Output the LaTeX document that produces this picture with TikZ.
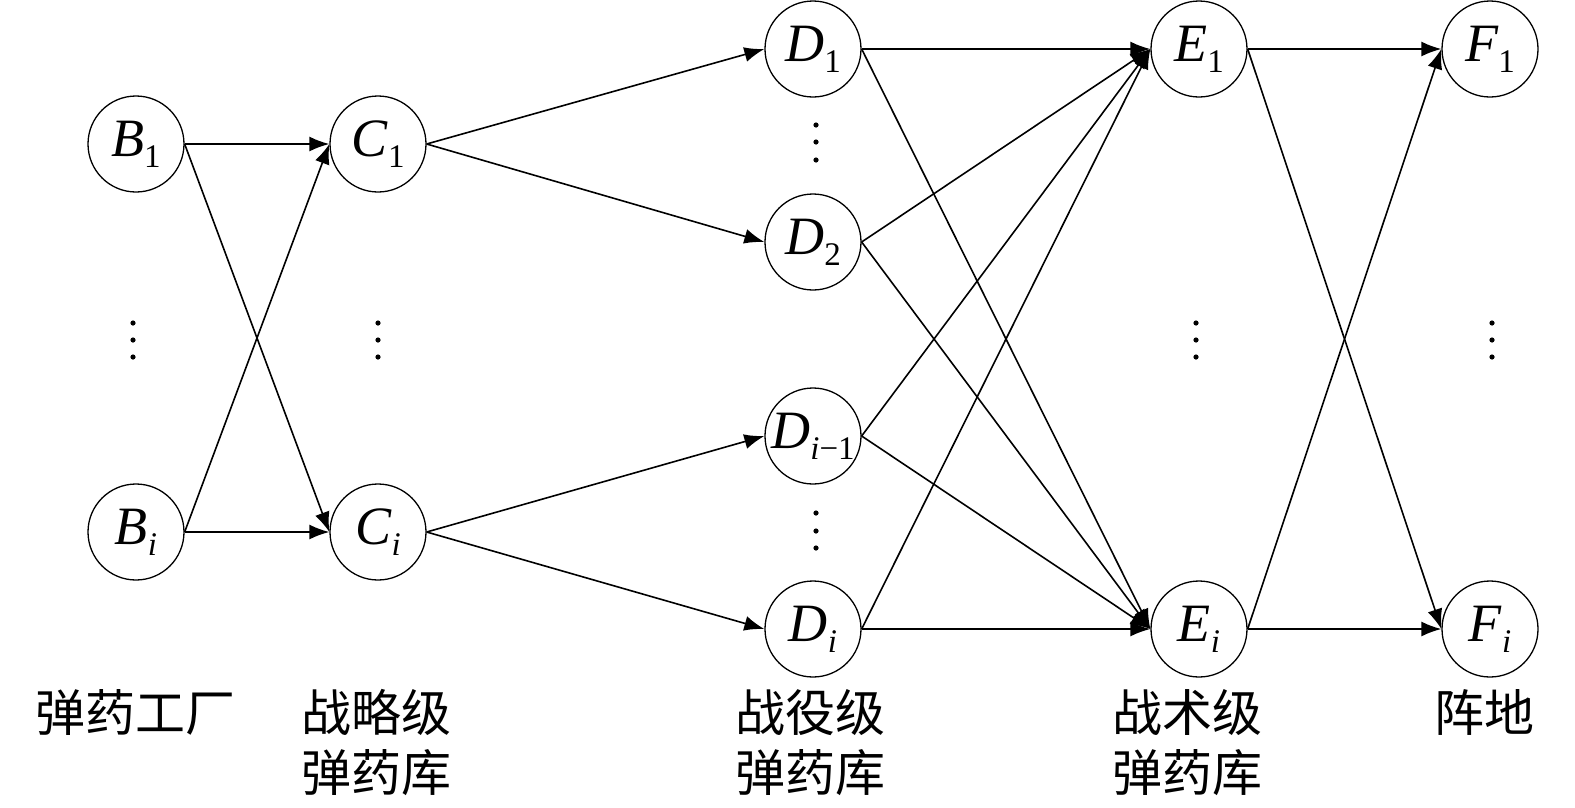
\documentclass[tikz,border=0pt]{standalone}
\usepackage{fontspec}
\setmainfont{Liberation Serif}
\newfontfamily\cjk{Noto Sans CJK SC}
\usetikzlibrary{arrows.meta}
\newcommand{\nlab}[2]{\fontsize{54}{54}\selectfont\textit{#1}\raisebox{-11pt}{\fontsize{33}{33}\selectfont #2}}
\begin{document}
\begin{tikzpicture}[x=1pt,y=-1pt,
  nd/.style={circle,draw,line width=1.3pt,minimum size=96pt,inner sep=0pt},
  ed/.style={line width=1.6pt,-{Latex[length=20pt,width=15pt]}},
  lb/.style={font=\cjk\fontsize{50}{60}\selectfont,anchor=base,inner sep=0pt},
  dt/.style={fill=black}]
\useasboundingbox (0,0) rectangle (1575,807);
% nodes
\node[nd] (B1) at (136,144) {\nlab{B}{1}};
\node[nd] (Bi) at (136,532) {\nlab{B}{\textit{i}}};
\node[nd] (C1) at (378,144) {\nlab{C}{1}};
\node[nd] (Ci) at (378,532) {\nlab{C}{\textit{i}}};
\node[nd] (D1) at (813,49) {\nlab{D}{1}};
\node[nd] (D2) at (813,242) {\nlab{D}{2}};
\node[nd] (Dm) at (813,436) {\nlab{D}{\textit{i}−1}};
\node[nd] (Di) at (813,629) {\nlab{D}{\textit{i}}};
\node[nd] (E1) at (1199,49) {\nlab{E}{1}};
\node[nd] (Ei) at (1199,629) {\nlab{E}{\textit{i}}};
\node[nd] (F1) at (1490,49) {\nlab{F}{1}};
\node[nd] (Fi) at (1490,629) {\nlab{F}{\textit{i}}};
% dots
\foreach \x in {133,378,1196,1492}{
  \foreach \y in {323,340,357}{\fill[dt] (\x,\y) circle (2.6pt);}}
\foreach \y in {125,142,160,513,531,548}{\fill[dt] (816,\y) circle (2.6pt);}
% edges: from east point of source to west point of target
\foreach \s/\t in {B1/C1,B1/Ci,Bi/C1,Bi/Ci,C1/D1,C1/D2,Ci/Dm,Ci/Di,
  D1/E1,D1/Ei,D2/E1,D2/Ei,Dm/E1,Dm/Ei,Di/E1,Di/Ei,E1/F1,E1/Fi,Ei/F1,Ei/Fi}{
  \draw[ed] (\s.east) -- (\t.west);}
% labels
\node[lb] (LB) at (135,731) {弹药工厂};
\node[lb] (LC1) at (376,731) {战略级};
\node[lb] (LC2) at (376,791) {弹药库};
\node[lb] (LD1) at (810,731) {战役级};
\node[lb] (LD2) at (810,791) {弹药库};
\node[lb] (LE1) at (1187,731) {战术级};
\node[lb] (LE2) at (1187,791) {弹药库};
\node[lb] (LF) at (1484,731) {阵地};
\end{tikzpicture}
\end{document}
